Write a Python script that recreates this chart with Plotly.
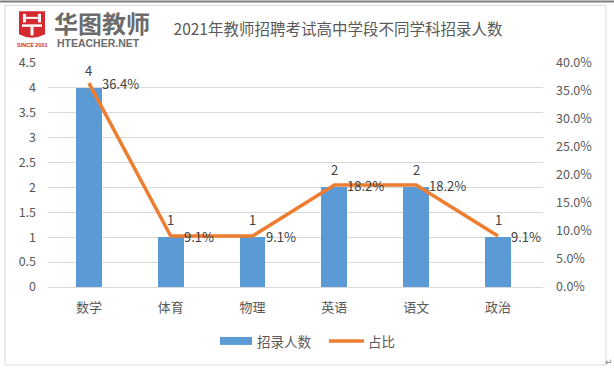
import plotly.graph_objects as go

categories = ["数学", "体育", "物理", "英语", "语文", "政治"]
counts = [4, 1, 1, 2, 2, 1]
shares = [0.364, 0.091, 0.091, 0.182, 0.182, 0.091]
share_labels = ["36.4%", "9.1%", "9.1%", "18.2%", "18.2%", "9.1%"]
left_tickvals = [0, 0.5, 1, 1.5, 2, 2.5, 3, 3.5, 4, 4.5]
left_ticktext = ["0", "0.5", "1", "1.5", "2", "2.5", "3", "3.5", "4", "4.5"]
right_tickvals = [0, 0.05, 0.10, 0.15, 0.20, 0.25, 0.30, 0.35, 0.40]
right_ticktext = ["0.0%", "5.0%", "10.0%", "15.0%", "20.0%", "25.0%", "30.0%", "35.0%", "40.0%"]
title_text = "2021年教师招聘考试高中学段不同学科招录人数"
series_names = ["招录人数", "占比"]

W, H = 614, 372
L, R, T, B = 48, 543, 62.7, 287
FONT = "Noto Sans CJK SC, sans-serif"
GREY = "#595959"
BLUE = "#5B9BD5"
ORANGE = "#ED7D31"


def px(x):
    return (x - L) / (R - L)


def py(y):
    return (B - y) / (B - T)


fig = go.Figure()
fig.add_trace(go.Bar(x=categories, y=counts, name=series_names[0],
                     marker=dict(color=BLUE, line=dict(width=0)), width=0.315,
                     hoverinfo="skip"))
fig.add_trace(go.Scatter(x=categories, y=shares, name=series_names[1], yaxis="y2",
                         mode="lines", line=dict(color=ORANGE, width=3.5),
                         hoverinfo="skip"))

annotations = []
for c, v in zip(categories, counts):
    annotations.append(dict(x=c, y=v, xref="x", yref="y", text=str(v),
                            showarrow=False, yanchor="bottom", yshift=6,
                            font=dict(family=FONT, size=13, color="#404040")))
for c, v, t in zip(categories, shares, share_labels):
    annotations.append(dict(x=c, y=v, xref="x", yref="y2", text=t,
                            showarrow=False, xanchor="left", xshift=11, yanchor="middle",
                            font=dict(family=FONT, size=13, color="#404040")))

# Legend (custom)
annotations.append(dict(x=px(255), y=py(341), xref="paper", yref="paper", text=series_names[0],
                        showarrow=False, xanchor="left", yanchor="middle",
                        font=dict(family=FONT, size=13.5, color=GREY)))
annotations.append(dict(x=px(366), y=py(341), xref="paper", yref="paper", text=series_names[1],
                        showarrow=False, xanchor="left", yanchor="middle",
                        font=dict(family=FONT, size=13.5, color=GREY)))

# Logo text (one text block: brand name + website)
logo_text = ("<span style='font-size:24px;font-family:Noto Sans CJK SC'><b>华图教师</b></span>"
             "<br><b> HTEACHER.NET</b>")
annotations.append(dict(x=px(52), y=py(27), xref="paper", yref="paper", text=logo_text,
                        showarrow=False, xanchor="left", yanchor="middle", align="left",
                        font=dict(family="Liberation Sans, Arial", size=10.5, color="#6b6b6b")))
annotations.append(dict(x=px(32), y=py(44.5), xref="paper", yref="paper", text="<b>SINCE 2001</b>",
                        showarrow=False, xanchor="center", yanchor="middle",
                        font=dict(family="Liberation Sans, Arial", size=5.5, color="#d42a30")))
annotations.append(dict(x=px(609), y=py(362), xref="paper", yref="paper", text="↵",
                        showarrow=False, xanchor="center", yanchor="middle",
                        font=dict(family="DejaVu Sans", size=9, color="#808080")))

shapes = []
# Outer frame
shapes.append(dict(type="rect", xref="paper", yref="paper", x0=px(5), x1=px(606), y0=py(5), y1=py(365),
                   line=dict(color="#D9D9D9", width=1), layer="below"))
shapes.append(dict(type="line", xref="paper", yref="paper", x0=px(0), x1=px(614), y0=py(1), y1=py(1),
                   line=dict(color="#7f7f7f", width=2)))
# Legend swatches
shapes.append(dict(type="rect", xref="paper", yref="paper", x0=px(220), x1=px(252), y0=py(337), y1=py(345),
                   fillcolor=BLUE, line=dict(width=0)))
shapes.append(dict(type="line", xref="paper", yref="paper", x0=px(329), x1=px(364), y0=py(341), y1=py(341),
                   line=dict(color=ORANGE, width=3.5)))
# Logo shield
shield = (f"M {px(19)},{py(11)} L {px(45)},{py(11)} L {px(45)},{py(34)} "
          f"Q {px(32)},{py(41)} {px(19)},{py(34)} Z")
shapes.append(dict(type="path", xref="paper", yref="paper", path=shield,
                   fillcolor="#d42a30", line=dict(width=0)))
for (x0, x1, y0, y1) in [(23, 26, 13.5, 22), (38, 41, 13.5, 22), (23, 41, 16.5, 18.5),
                         (22, 42, 24, 26.5), (30.5, 33.5, 26.5, 35)]:
    shapes.append(dict(type="rect", xref="paper", yref="paper", x0=px(x0), x1=px(x1),
                       y0=py(y0), y1=py(y1), fillcolor="white", line=dict(width=0)))

fig.update_layout(
    width=W, height=H,
    margin=dict(l=L, r=W - R, t=T, b=H - B, pad=0),
    paper_bgcolor="white", plot_bgcolor="white",
    showlegend=False,
    bargap=0,
    title=dict(text=title_text, x=338 / W, xanchor="center", y=1 - 30 / H, yanchor="middle",
               font=dict(family=FONT, size=15.5, color=GREY)),
    font=dict(family=FONT, color=GREY),
    xaxis=dict(showline=True, linecolor="#D9D9D9", linewidth=1, showgrid=False,
               tickfont=dict(family=FONT, size=13, color=GREY), ticks="",
               ticklabelstandoff=8, fixedrange=True),
    yaxis=dict(range=[0, 4.5], tickvals=left_tickvals, ticktext=left_ticktext,
               showgrid=True, gridcolor="#D9D9D9", gridwidth=1, zeroline=False,
               tickfont=dict(family=FONT, size=12.5, color=GREY), ticks="",
               ticklabelstandoff=11, fixedrange=True),
    yaxis2=dict(range=[0, 0.4], overlaying="y", side="right", tickvals=right_tickvals,
                ticktext=right_ticktext, showgrid=False, zeroline=False,
                tickfont=dict(family=FONT, size=12.5, color=GREY), ticks="",
                ticklabelstandoff=12, fixedrange=True),
    annotations=annotations,
    shapes=shapes,
)

fig.write_html("out.html", include_plotlyjs=True, config=dict(displayModeBar=False),
               post_script="document.body.style.margin='0';document.body.style.padding='0';")
